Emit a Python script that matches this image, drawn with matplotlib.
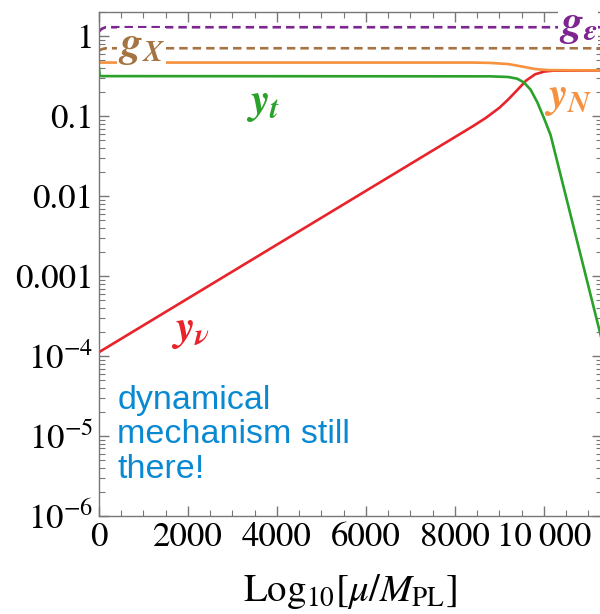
import matplotlib
matplotlib.use("Agg")
import matplotlib.pyplot as plt
from matplotlib.ticker import FixedLocator, FixedFormatter, LogLocator, MultipleLocator, NullFormatter

plt.rcParams['mathtext.fontset'] = 'stix'
plt.rcParams['font.family'] = ['STIXGeneral', 'DejaVu Serif']

# running couplings vs log10(mu / M_PL)
x_ge = [0, 60, 150, 11300]
g_eps = [1.15, 1.24, 1.30, 1.30]

x_gx = [0, 60, 150, 11300]
g_x = [0.66, 0.69, 0.71, 0.71]

x_yn = [0, 8400, 8800, 9200, 9500, 9800, 10100, 11300]
y_n = [0.47, 0.47, 0.465, 0.45, 0.42, 0.39, 0.378, 0.375]

x_yt = [0, 15, 40, 8800, 9200, 9400, 9550, 9700, 9850, 10000, 10150, 11300]
y_t = [0.40, 0.33, 0.318, 0.316, 0.31, 0.295, 0.265, 0.215, 0.15, 0.095, 0.058, 1.6e-4]

x_ynu = [0, 8000, 8400, 8700, 9000, 9200, 9400, 9600, 9800, 10000, 10200, 11300]
y_nu = [1.12e-4, 0.055, 0.075, 0.096, 0.128, 0.163, 0.213, 0.28, 0.335, 0.362, 0.372, 0.375]

ytick_vals = [1e-6, 1e-5, 1e-4, 1e-3, 1e-2, 1e-1, 1]
ytick_labels = [r'$10^{-6}$', r'$10^{-5}$', r'$10^{-4}$', '0.001', '0.01', '0.1', '1']
xtick_vals = [0, 2000, 4000, 6000, 8000, 10000]
xtick_labels = ['0', '2000', '4000', '6000', '8000', '10\u2009000']

c_purple = '#7d2590'
c_brown = '#a47443'
c_orange = '#f5913f'
c_green = '#2aa12a'
c_red = '#e8232b'

fig = plt.figure(figsize=(6, 6.14), dpi=100)
ax = fig.add_axes([0.165, 0.1596, 0.838, 0.8204])

lw = 1.9
ax.plot(x_ge, g_eps, color=c_purple, lw=lw, dashes=(3.2, 1.9))
ax.plot(x_gx, g_x, color=c_brown, lw=lw, dashes=(3.2, 1.9))
ax.plot(x_ynu, y_nu, color=c_red, lw=lw)
ax.plot(x_yn, y_n, color=c_orange, lw=lw)
ax.plot(x_yt, y_t, color=c_green, lw=lw)

ax.set_yscale('log')
ax.set_xlim(0, 11300)
ax.set_ylim(1e-6, 2)

ax.yaxis.set_major_locator(FixedLocator(ytick_vals))
ax.yaxis.set_major_formatter(FixedFormatter(ytick_labels))
ax.yaxis.set_minor_locator(LogLocator(base=10, subs=range(2, 10), numticks=20))
ax.yaxis.set_minor_formatter(NullFormatter())
ax.xaxis.set_major_locator(FixedLocator(xtick_vals))
ax.xaxis.set_major_formatter(FixedFormatter(xtick_labels))
ax.xaxis.set_minor_locator(MultipleLocator(500))

ax.tick_params(which='both', direction='in', top=True, right=True,
               color='#777777', labelsize=25, pad=4)
ax.tick_params(which='major', length=7, width=1)
ax.tick_params(which='minor', length=4, width=0.8)
for sp in ax.spines.values():
    sp.set_color('#777777')
    sp.set_linewidth(1)

ax.set_xlabel(r'$\mathrm{Log}_{10}[\mu/M_{\mathrm{PL}}]$', fontsize=28, labelpad=13)

# curve labels
lab = dict(fontsize=31, va='center')
ax.text(420, 0.71, r'$\mathbfit{g}_{\mathbfit{X}}$', color=c_brown, ha='left',
        bbox=dict(facecolor='white', edgecolor='none', pad=0.5), **lab)
ax.text(10330, 1.30, r'$\mathbfit{g}_{\mathbfit{\epsilon}}$', color=c_purple, ha='left',
        bbox=dict(facecolor='white', edgecolor='none', pad=0.5), **lab)
ax.text(3700, 0.14, r'$\mathbfit{y}_{\mathbfit{t}}$', color=c_green, ha='center', **lab)
ax.text(10550, 0.165, r'$\mathbfit{y}_{\mathbfit{N}}$', color=c_orange, ha='center', **lab)
ax.text(2050, 2.0e-4, r'$\mathbfit{y}_{\mathbfit{\nu}}$', color=c_red, ha='center', **lab)

ax.text(410, 3.0e-6, 'dynamical\nmechanism still\nthere!', color='#0a89d3',
        fontsize=24.5, family='Liberation Sans', ha='left', va='baseline', linespacing=1.15)

fig.savefig('out.png', dpi=100)
